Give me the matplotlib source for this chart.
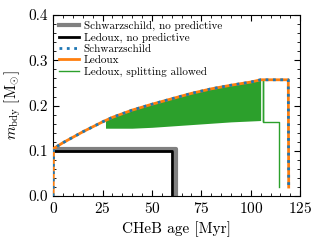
import numpy as np
import matplotlib
matplotlib.use('Agg')
import matplotlib.pyplot as plt

plt.rcParams['font.family'] = 'serif'
plt.rcParams['font.serif'] = ['cmr10']
plt.rcParams['mathtext.fontset'] = 'cm'
plt.rcParams['axes.formatter.use_mathtext'] = True

# CHeB age [Myr] and boundary mass [Msun]
t_sch_np = [0.5, 62.0, 62.0]
m_sch_np = [0.1035, 0.1035, 0.0]

t_led_np = [0.5, 60.4, 60.4]
m_led_np = [0.100, 0.100, 0.0]

t_pred = [0.0, 0.2, 5, 10, 15, 20, 25, 30, 40, 50, 60, 70, 80, 90, 100, 105, 119.0, 119.2]
m_pred = [0.0, 0.105, 0.118, 0.130, 0.142, 0.153, 0.164, 0.174, 0.190, 0.203, 0.215, 0.227,
          0.237, 0.245, 0.252, 0.257, 0.257, 0.02]

# Ledoux with splitting: rising part, oscillating band (upper/lower envelope), tail
t_split_rise = [0.0, 0.2, 5, 10, 15, 20, 25, 26.5]
m_split_rise = [0.0, 0.105, 0.118, 0.130, 0.142, 0.153, 0.164, 0.167]
t_band = [26.5, 30, 40, 50, 60, 70, 80, 90, 100, 105]
m_band_hi = [0.167, 0.174, 0.190, 0.203, 0.215, 0.227, 0.237, 0.245, 0.252, 0.256]
m_band_lo = [0.150, 0.150, 0.150, 0.152, 0.155, 0.158, 0.161, 0.164, 0.166, 0.167]
t_split_tail = [106.0, 106.0, 106.0, 114.5, 114.5]
m_split_tail = [0.167, 0.256, 0.163, 0.163, 0.02]

fig = plt.figure(figsize=(3.2, 2.43), dpi=100)
ax = fig.add_axes([0.166, 0.193, 0.772, 0.745])

ax.plot(t_sch_np, m_sch_np, color='grey', lw=3, label='Schwarzschild, no predictive')
ax.plot(t_led_np, m_led_np, color='black', lw=2, label='Ledoux, no predictive')
ax.plot(t_pred, m_pred, color='C1', lw=2, zorder=3)
ax.plot(t_pred, m_pred, color='C0', lw=2, ls=':', zorder=4)
ax.plot([], [], color='C0', lw=2, ls=':', label='Schwarzschild')
ax.plot([], [], color='C1', lw=2, label='Ledoux')
ax.plot(t_split_rise, m_split_rise, color='C2', lw=1, label='Ledoux, splitting allowed')
ax.fill_between(t_band, m_band_lo, m_band_hi, color='C2', lw=0)
ax.plot(t_split_tail, m_split_tail, color='C2', lw=1)

ax.set_xlim(0, 125)
ax.set_ylim(0, 0.4)
ax.set_xticks([0, 25, 50, 75, 100, 125])
ax.set_yticks([0.0, 0.1, 0.2, 0.3, 0.4])
ax.set_yticklabels(['0.0', '0.1', '0.2', '0.3', '0.4'])
ax.xaxis.set_minor_locator(matplotlib.ticker.MultipleLocator(5))
ax.yaxis.set_minor_locator(matplotlib.ticker.MultipleLocator(0.02))
ax.tick_params(which='both', direction='in', top=True, right=True, labelsize=11)
ax.tick_params(which='major', length=4)
ax.tick_params(which='minor', length=2)
ax.set_xlabel('CHeB age [Myr]', fontsize=11)
ax.set_ylabel(r'$m_{\rm bdy}$ [M$_{\odot}$]', fontsize=11)

ax.legend(loc='upper left', frameon=False, fontsize=8, handlelength=1.75,
          handletextpad=0.45, labelspacing=0.12, borderaxespad=0.1, borderpad=0.45)

fig.savefig('out.png', dpi=100)
